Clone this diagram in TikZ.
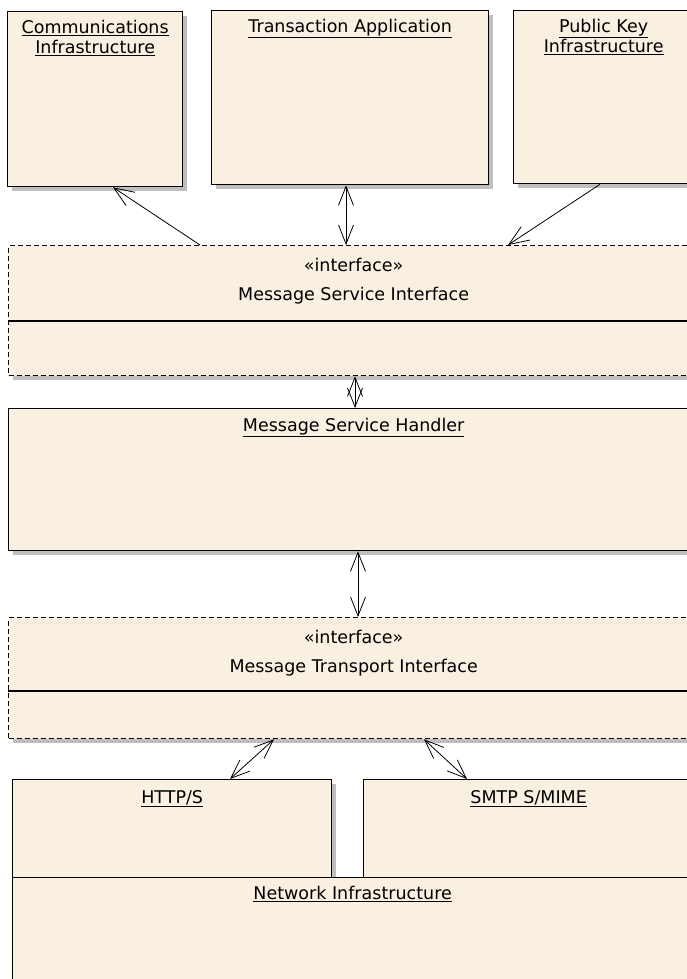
\documentclass[tikz,border=0pt]{standalone}
\usepackage{fontspec}
\setmainfont{DejaVu Sans}
\usetikzlibrary{positioning,arrows.meta,shadows}
\definecolor{boxfill}{RGB}{250,240,225}
\begin{document}
\begin{tikzpicture}[x=1pt, y=-1pt, font=\fontsize{17.5}{21}\selectfont,
    comp/.style={draw, rectangle, line width=1.3pt, fill=boxfill, anchor=north west, inner sep=0pt,
      general shadow={fill=black!25, shadow xshift=4pt, shadow yshift=-4pt}},
    iface/.style={comp, dashed, dash pattern=on 5pt off 3pt},
    title/.style={align=center, inner sep=0pt},
    dep/.style={line width=0.8pt, -{Straight Barb[length=20pt,width=16pt]}},
    dep2/.style={line width=0.8pt, {Straight Barb[length=19pt,width=15pt]}-{Straight Barb[length=19pt,width=15pt]}}]
  \useasboundingbox[fill=white] (0,0) rectangle (687,979);
  % top row
  \node[comp, minimum width=175pt, minimum height=175pt] (comms) at (7,11) {};
  \node[comp, minimum width=277pt, minimum height=174pt] (trans) at (211,10) {};
  \node[comp, minimum width=180pt, minimum height=173pt] (pki) at (513,10) {};
  \node[title, below=9pt of comms.north] (commsT) {\underline{Communications}\\[-1pt]\underline{Infrastructure}};
  \node[title, below=9pt of trans.north] (transT) {\underline{Transaction Application}};
  \node[title, below=9pt of pki.north] (pkiT) {\underline{Public Key}\\[-1pt]\underline{Infrastructure}};
  % message service interface
  \node[iface, minimum width=690pt, minimum height=130pt] (msi) at (8,245) {};
  \draw[line width=1.3pt] ([yshift=-76pt]msi.north west) -- ([yshift=-76pt]msi.north east);
  \node[title, below=13pt of msi.north] (msiS) {«interface»};
  \node[title, below=15pt of msiS] (msiT) {Message Service Interface};
  % handler
  \node[comp, minimum width=690pt, minimum height=142pt] (msh) at (8,408) {};
  \node[title, below=10pt of msh.north] (mshT) {\underline{Message Service Handler}};
  % message transport interface
  \node[iface, minimum width=690pt, minimum height=121pt] (mti) at (8,617) {};
  \draw[line width=1.3pt] ([yshift=-74pt]mti.north west) -- ([yshift=-74pt]mti.north east);
  \node[title, below=13pt of mti.north] (mtiS) {«interface»};
  \node[title, below=15pt of mtiS] (mtiT) {Message Transport Interface};
  % transports and network
  \node[comp, minimum width=319pt, minimum height=98pt] (http) at (12,779) {};
  \node[comp, minimum width=330pt, minimum height=98pt] (smtp) at (363,779) {};
  \node[comp, general shadow={}, minimum width=680pt, minimum height=110pt] (net) at (12,877) {};
  \node[title, below=11pt of http.north] (httpT) {\underline{HTTP/S}};
  \node[title, below=11pt of smtp.north] (smtpT) {\underline{SMTP S/MIME}};
  \node[title, below=9pt of net.north] (netT) {\underline{Network Infrastructure}};
  % connectors
  \draw[dep] ([xshift=192pt]msi.north west) -- ([xshift=106pt]comms.south west);
  \draw[dep2] ([xshift=135pt]trans.south west) -- ([xshift=338pt]msi.north west);
  \draw[dep] ([xshift=87pt]pki.south west) -- ([xshift=500pt]msi.north west);
  \draw[dep2] ([xshift=347pt]msi.south west) -- ([xshift=347pt]msh.north west);
  \draw[dep2] ([xshift=350pt]msh.south west) -- ([xshift=350pt]mti.north west);
  \draw[dep2] ([xshift=266pt]mti.south west) -- ([xshift=218pt]http.north west);
  \draw[dep2] ([xshift=416pt]mti.south west) -- ([xshift=104pt]smtp.north west);
\end{tikzpicture}
\end{document}
